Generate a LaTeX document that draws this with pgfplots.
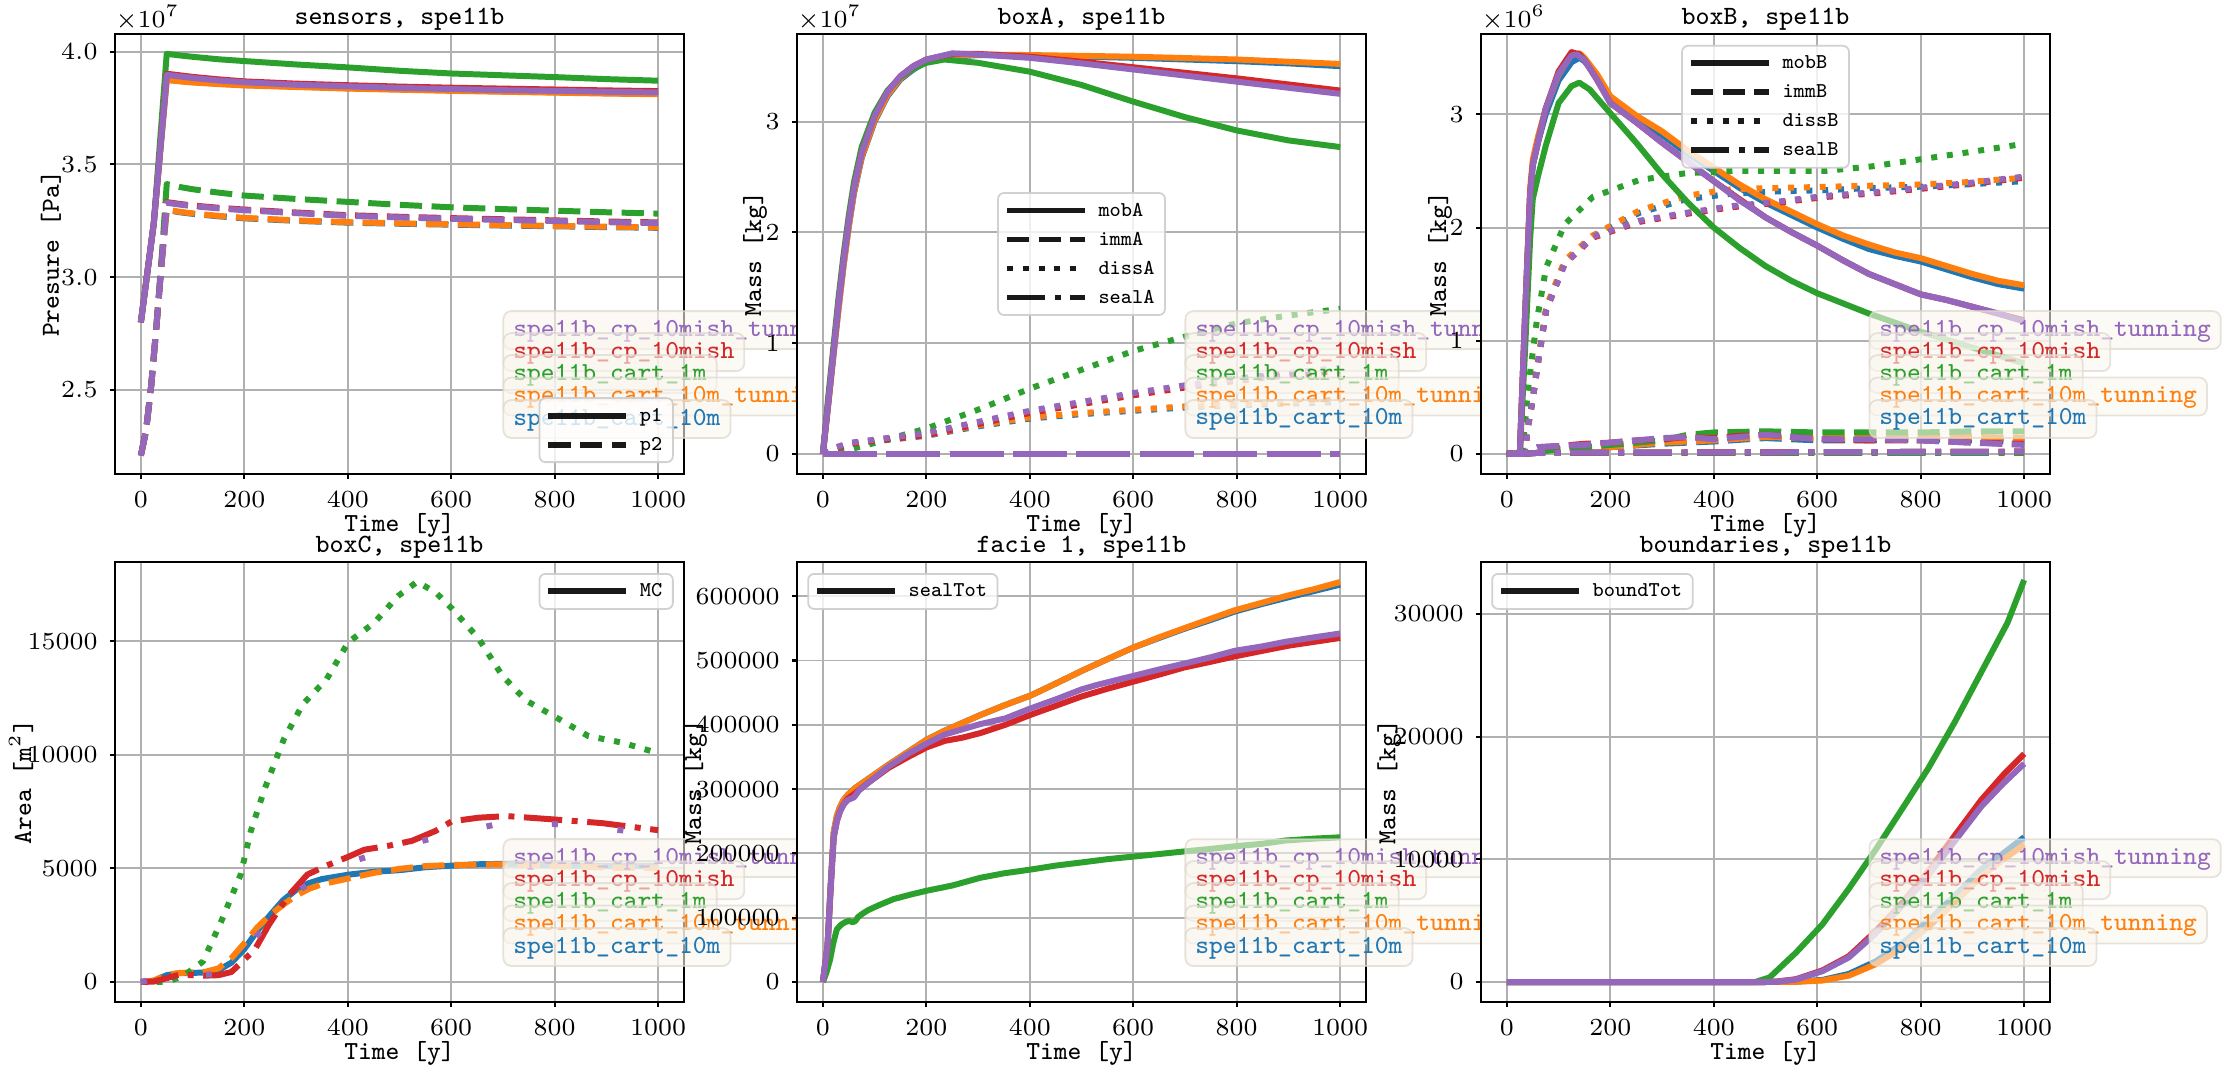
\documentclass[border=0pt]{standalone}
\usepackage{pgfplots}
\pgfplotsset{compat=1.18}
\definecolor{cblue}{HTML}{1F77B4}
\definecolor{corange}{HTML}{FF7F0E}
\definecolor{cgreen}{HTML}{2CA02C}
\definecolor{cred}{HTML}{D62728}
\definecolor{cpurple}{HTML}{9467BD}
\definecolor{gridgray}{HTML}{B0B0B0}
\definecolor{leggray}{HTML}{CCCCCC}
\definecolor{boxfill}{HTML}{FAF6EE}
\definecolor{boxedge}{HTML}{DDD8CE}
\tikzset{
  mdash/.style={dash pattern=on 6.3pt off 2.72pt},
  mdot/.style={dash pattern=on 1.7pt off 2.8pt},
  mdashdot/.style={dash pattern=on 10.9pt off 2.72pt on 1.7pt off 2.72pt},
  mloose/.style={dash pattern=on 1.7pt off 17pt},
  runbox/.style={anchor=west, inner xsep=1mm, inner ysep=0.75mm, text height=1.75mm, text depth=0.55mm,
    font=\fontsize{7.4}{9}\ttfamily, fill=boxfill, fill opacity=0.6, draw=boxedge, draw opacity=0.7,
    text opacity=1, rounded corners=0.8mm, line width=0.5pt},
}
\newcommand{\runlabels}{%
 \node[runbox,text=cpurple] at (rel axis cs:0.681,0.327) {spe11b\_cp\_10mish\_tunning};
 \node[runbox,text=cred] at (rel axis cs:0.681,0.277) {spe11b\_cp\_10mish};
 \node[runbox,text=cgreen] at (rel axis cs:0.681,0.227) {spe11b\_cart\_1m};
 \node[runbox,text=corange] at (rel axis cs:0.681,0.176) {spe11b\_cart\_10m\_tunning};
 \node[runbox,text=cblue] at (rel axis cs:0.681,0.125) {spe11b\_cart\_10m};
}
\pgfplotsset{
  base/.style={
    scale only axis, width=56.9mm, height=44mm,
    xmin=-50, xmax=1050, xtick={0,200,400,600,800,1000},
    grid=major, grid style={color=gridgray, line width=0.55pt},
    axis line style={black, line width=0.7pt},
    tick align=outside, xtick pos=lower, ytick pos=left,
    major tick length=0.5mm, tick style={black, line width=0.6pt},
    tick label style={font=\fontsize{7.05}{8.5}\selectfont},
    /pgf/number format/.cd, fixed, 1000 sep={}, /pgfplots/.cd,
    scaled ticks=false,
    label style={font=\fontsize{7.4}{9}\ttfamily},
    every axis title shift=0pt,
    title style={at={(axis description cs:0.5,1.034)}, anchor=center, inner sep=0pt, font=\fontsize{7.5}{9}\ttfamily},
    xlabel={Time [y]},
    xlabel style={at={(axis description cs:0.5,-0.117)}, anchor=center, inner sep=0pt},
    axis background/.style={fill=white},
    clip=false,
    every axis plot/.append style={line width=1.7pt, line join=round},
    legend image code/.code={\draw[line width=1.7pt,##1] (0mm,0mm) -- (7.8mm,0mm);},
    legend style={font=\fontsize{6}{7}\ttfamily, draw=leggray, line width=0.5pt, rounded corners=0.6mm,
      fill=white, fill opacity=0.8, draw opacity=0.9, text opacity=1, inner xsep=0.6mm, inner ysep=0.3mm,
      cells={anchor=west}, nodes={inner sep=0.45mm, text height=1.55mm, text depth=0.45mm},
      /tikz/every odd column/.style={column sep=0.6mm}},
  },
  ylab/.style={ylabel style={at={(axis description cs:#1,0.5)}, anchor=center, inner sep=0pt}},
}
\begin{document}
\begin{tikzpicture}
\useasboundingbox (0,0) rectangle (223.1mm,107.6mm);
% ---------------- sensors
\begin{axis}[base, at={(11.5mm,60.2mm)}, anchor=south west,
  title={sensors, spe11b}, ylabel={Presure [Pa]}, ylab=-0.1125,
  ymin=2.128e7, ymax=4.078e7, ytick={2.5e7,3.0e7,3.5e7,4.0e7}, yticklabels={$2.5$,$3.0$,$3.5$,$4.0$},
  legend style={at={(rel axis cs:0.982,0.025)}, anchor=south east}]
\addplot[cblue,forget plot] coordinates {(0,2.80e7)(25,3.24e7)(50,3.876e7)(75,3.870e7)(100,3.865e7)(150,3.858e7)(200,3.852e7)(300,3.845e7)(400,3.838e7)(500,3.833e7)(600,3.828e7)(700,3.824e7)(800,3.820e7)(900,3.816e7)(1000,3.813e7)};
\addplot[cblue,mdash,forget plot] coordinates {(0,2.21e7)(10,2.32e7)(20,2.52e7)(30,2.78e7)(40,3.06e7)(50,3.298e7)(75,3.288e7)(100,3.281e7)(150,3.270e7)(200,3.261e7)(300,3.250e7)(400,3.242e7)(500,3.237e7)(600,3.233e7)(700,3.229e7)(800,3.226e7)(900,3.222e7)(1000,3.219e7)};
\addplot[corange,forget plot] coordinates {(0,2.80e7)(25,3.24e7)(50,3.874e7)(75,3.868e7)(100,3.863e7)(150,3.856e7)(200,3.850e7)(300,3.843e7)(400,3.836e7)(500,3.831e7)(600,3.826e7)(700,3.822e7)(800,3.818e7)(900,3.814e7)(1000,3.811e7)};
\addplot[corange,mdash,forget plot] coordinates {(0,2.21e7)(10,2.32e7)(20,2.52e7)(30,2.78e7)(40,3.06e7)(50,3.300e7)(75,3.290e7)(100,3.283e7)(150,3.272e7)(200,3.263e7)(300,3.252e7)(400,3.244e7)(500,3.239e7)(600,3.235e7)(700,3.231e7)(800,3.228e7)(900,3.224e7)(1000,3.221e7)};
\addplot[cgreen,forget plot] coordinates {(0,2.80e7)(25,3.24e7)(50,3.990e7)(75,3.983e7)(100,3.977e7)(150,3.966e7)(200,3.958e7)(300,3.943e7)(400,3.930e7)(500,3.915e7)(600,3.903e7)(700,3.895e7)(800,3.887e7)(900,3.878e7)(1000,3.871e7)};
\addplot[cgreen,mdash,forget plot] coordinates {(0,2.21e7)(10,2.32e7)(20,2.52e7)(30,2.78e7)(40,3.08e7)(50,3.413e7)(75,3.400e7)(100,3.390e7)(150,3.375e7)(200,3.362e7)(300,3.347e7)(400,3.334e7)(500,3.321e7)(600,3.310e7)(700,3.302e7)(800,3.295e7)(900,3.288e7)(1000,3.282e7)};
\addplot[cred,forget plot] coordinates {(0,2.80e7)(25,3.24e7)(50,3.902e7)(75,3.895e7)(100,3.888e7)(150,3.877e7)(200,3.868e7)(300,3.858e7)(400,3.851e7)(500,3.845e7)(600,3.840e7)(700,3.836e7)(800,3.832e7)(900,3.828e7)(1000,3.825e7)};
\addplot[cred,mdash,forget plot] coordinates {(0,2.21e7)(10,2.32e7)(20,2.52e7)(30,2.78e7)(40,3.06e7)(50,3.333e7)(75,3.325e7)(100,3.318e7)(150,3.308e7)(200,3.300e7)(300,3.287e7)(400,3.275e7)(500,3.268e7)(600,3.262e7)(700,3.257e7)(800,3.252e7)(900,3.247e7)(1000,3.243e7)};
\addplot[cpurple,forget plot] coordinates {(0,2.80e7)(25,3.24e7)(50,3.897e7)(75,3.890e7)(100,3.883e7)(150,3.872e7)(200,3.864e7)(300,3.853e7)(400,3.846e7)(500,3.839e7)(600,3.834e7)(700,3.829e7)(800,3.826e7)(900,3.822e7)(1000,3.819e7)};
\addplot[cpurple,mdash,forget plot] coordinates {(0,2.21e7)(10,2.32e7)(20,2.52e7)(30,2.78e7)(40,3.06e7)(50,3.330e7)(75,3.322e7)(100,3.315e7)(150,3.305e7)(200,3.297e7)(300,3.284e7)(400,3.272e7)(500,3.265e7)(600,3.259e7)(700,3.254e7)(800,3.249e7)(900,3.244e7)(1000,3.240e7)};
\runlabels
\node[anchor=south west, inner sep=0pt, yshift=0.3mm, font=\fontsize{7.05}{8.5}\selectfont] at (rel axis cs:0,1) {$\times10^{7}$};
\addlegendimage{black}\addlegendentry{p1}
\addlegendimage{black,mdash}\addlegendentry{p2}
\end{axis}
% ---------------- boxA
\begin{axis}[base, at={(79.7mm,60.2mm)}, anchor=south west,
  title={boxA, spe11b}, ylabel={Mass [kg]}, ylab=-0.0737,
  ymin=-0.18e7, ymax=3.79e7, ytick={0,1e7,2e7,3e7}, yticklabels={$0$,$1$,$2$,$3$},
  legend style={at={(rel axis cs:0.5,0.5)}, anchor=center}]
\addplot[cblue,forget plot] coordinates {(0,0)(10,0.43e7)(20,0.87e7)(30,1.30e7)(40,1.70e7)(50,2.05e7)(60,2.35e7)(75,2.67e7)(100,3.00e7)(125,3.23e7)(150,3.38e7)(175,3.47e7)(200,3.54e7)(250,3.585e7)(300,3.60e7)(400,3.595e7)(500,3.585e7)(600,3.575e7)(700,3.56e7)(800,3.545e7)(900,3.525e7)(1000,3.50e7)};
\addplot[cblue,mdash,forget plot] coordinates {(0,0)(1000,0)};
\addplot[cblue,mdot,forget plot] coordinates {(0,0)(25,0.05e7)(50,0.085e7)(100,0.115e7)(200,0.165e7)(300,0.25e7)(400,0.32e7)(500,0.36e7)(600,0.39e7)(700,0.42e7)(800,0.44e7)(900,0.455e7)(1000,0.47e7)};
\addplot[cblue,mdashdot,forget plot] coordinates {(0,0)(1000,0)};
\addplot[corange,forget plot] coordinates {(0,0)(10,0.43e7)(20,0.87e7)(30,1.30e7)(40,1.70e7)(50,2.05e7)(60,2.36e7)(75,2.68e7)(100,3.01e7)(125,3.24e7)(150,3.39e7)(175,3.48e7)(200,3.55e7)(250,3.59e7)(300,3.605e7)(400,3.60e7)(500,3.593e7)(600,3.585e7)(700,3.573e7)(800,3.56e7)(900,3.54e7)(1000,3.52e7)};
\addplot[corange,mdash,forget plot] coordinates {(0,0)(1000,0)};
\addplot[corange,mdot,forget plot] coordinates {(0,0)(25,0.05e7)(50,0.09e7)(100,0.12e7)(200,0.17e7)(300,0.26e7)(400,0.33e7)(500,0.37e7)(600,0.40e7)(700,0.43e7)(800,0.45e7)(900,0.47e7)(1000,0.49e7)};
\addplot[corange,mdashdot,forget plot] coordinates {(0,0)(1000,0)};
\addplot[cgreen,forget plot] coordinates {(0,0)(10,0.5e7)(20,0.95e7)(30,1.40e7)(40,1.80e7)(50,2.15e7)(60,2.45e7)(75,2.77e7)(100,3.08e7)(125,3.28e7)(150,3.40e7)(175,3.48e7)(200,3.53e7)(235,3.56e7)(300,3.53e7)(400,3.45e7)(500,3.33e7)(600,3.18e7)(700,3.04e7)(800,2.92e7)(900,2.83e7)(1000,2.77e7)};
\addplot[cgreen,mdash,forget plot] coordinates {(0,0)(1000,0)};
\addplot[cgreen,mdot,forget plot] coordinates {(0,0)(50,0.04e7)(100,0.10e7)(200,0.23e7)(300,0.40e7)(400,0.59e7)(500,0.76e7)(600,0.93e7)(700,1.06e7)(800,1.18e7)(900,1.25e7)(1000,1.31e7)};
\addplot[cgreen,mdashdot,forget plot] coordinates {(0,0)(1000,0)};
\addplot[cred,forget plot] coordinates {(0,0)(10,0.45e7)(20,0.9e7)(30,1.35e7)(40,1.75e7)(50,2.1e7)(60,2.4e7)(75,2.72e7)(100,3.05e7)(125,3.27e7)(150,3.41e7)(175,3.50e7)(200,3.56e7)(250,3.61e7)(300,3.61e7)(400,3.585e7)(500,3.54e7)(600,3.49e7)(700,3.44e7)(800,3.39e7)(900,3.335e7)(1000,3.28e7)};
\addplot[cred,mdash,forget plot] coordinates {(0,0)(1000,0)};
\addplot[cred,mdot,forget plot] coordinates {(0,0)(25,0.05e7)(50,0.09e7)(100,0.12e7)(200,0.17e7)(300,0.27e7)(400,0.37e7)(500,0.45e7)(600,0.53e7)(700,0.60e7)(800,0.66e7)(900,0.71e7)(1000,0.75e7)};
\addplot[cred,mdashdot,forget plot] coordinates {(0,0)(1000,0)};
\addplot[cpurple,forget plot] coordinates {(0,0)(10,0.45e7)(20,0.9e7)(30,1.35e7)(40,1.75e7)(50,2.1e7)(60,2.4e7)(75,2.72e7)(100,3.05e7)(125,3.27e7)(150,3.41e7)(175,3.50e7)(200,3.56e7)(250,3.615e7)(300,3.605e7)(400,3.575e7)(500,3.525e7)(600,3.47e7)(700,3.415e7)(800,3.36e7)(900,3.305e7)(1000,3.25e7)};
\addplot[cpurple,mdash,forget plot] coordinates {(0,0)(1000,0)};
\addplot[cpurple,mdot,forget plot] coordinates {(0,0)(25,0.06e7)(50,0.10e7)(100,0.13e7)(200,0.19e7)(300,0.29e7)(400,0.39e7)(500,0.47e7)(600,0.55e7)(700,0.62e7)(800,0.68e7)(900,0.73e7)(1000,0.78e7)};
\addplot[cpurple,mdashdot,forget plot] coordinates {(0,0)(1000,0)};
\runlabels
\node[anchor=south west, inner sep=0pt, yshift=0.3mm, font=\fontsize{7.05}{8.5}\selectfont] at (rel axis cs:0,1) {$\times10^{7}$};
\addlegendimage{black}\addlegendentry{mobA}
\addlegendimage{black,mdash}\addlegendentry{immA}
\addlegendimage{black,mdot}\addlegendentry{dissA}
\addlegendimage{black,mdashdot}\addlegendentry{sealA}
\end{axis}
% ---------------- boxB
\begin{axis}[base, at={(148.1mm,60.2mm)}, anchor=south west,
  title={boxB, spe11b}, ylabel={Mass [kg]}, ylab=-0.072,
  ymin=-0.177e6, ymax=3.71e6, ytick={0,1e6,2e6,3e6}, yticklabels={$0$,$1$,$2$,$3$},
  legend style={at={(rel axis cs:0.5,0.975)}, anchor=north}]
\addplot[cblue,forget plot] coordinates {(0,0)(25,0)(35,1.2e6)(45,2.3e6)(50,2.55e6)(60,2.75e6)(75,3.0e6)(100,3.3e6)(125,3.46e6)(140,3.50e6)(150,3.47e6)(175,3.33e6)(200,3.12e6)(250,2.96e6)(300,2.82e6)(350,2.65e6)(400,2.50e6)(450,2.35e6)(500,2.22e6)(550,2.11e6)(600,2.00e6)(650,1.90e6)(700,1.81e6)(750,1.75e6)(800,1.70e6)(850,1.63e6)(900,1.56e6)(950,1.50e6)(1000,1.46e6)};
\addplot[cblue,mdash,forget plot] coordinates {(0,0)(30,0)(60,0.04e6)(100,0.05e6)(200,0.06e6)(300,0.09e6)(400,0.11e6)(500,0.14e6)(600,0.12e6)(700,0.12e6)(800,0.13e6)(900,0.12e6)(1000,0.11e6)};
\addplot[cblue,mdot,forget plot] coordinates {(0,0)(35,0)(40,0.22e6)(50,0.48e6)(58,0.74e6)(76,1.27e6)(112,1.69e6)(166,1.92e6)(256,2.13e6)(346,2.25e6)(436,2.30e6)(526,2.32e6)(615,2.33e6)(705,2.35e6)(795,2.36e6)(885,2.38e6)(1000,2.41e6)};
\addplot[cblue,mdashdot,forget plot] coordinates {(0,0)(30,0)(60,0.01e6)(1000,0.02e6)};
\addplot[corange,forget plot] coordinates {(0,0)(25,0)(35,1.2e6)(45,2.35e6)(50,2.6e6)(60,2.8e6)(75,3.05e6)(100,3.35e6)(125,3.53e6)(140,3.54e6)(150,3.50e6)(175,3.35e6)(200,3.16e6)(250,2.99e6)(300,2.85e6)(350,2.68e6)(400,2.53e6)(450,2.38e6)(500,2.25e6)(550,2.14e6)(600,2.03e6)(650,1.93e6)(700,1.85e6)(750,1.78e6)(800,1.73e6)(850,1.66e6)(900,1.59e6)(950,1.53e6)(1000,1.49e6)};
\addplot[corange,mdash,forget plot] coordinates {(0,0)(30,0)(60,0.04e6)(100,0.05e6)(200,0.06e6)(300,0.10e6)(400,0.12e6)(500,0.15e6)(600,0.14e6)(700,0.14e6)(800,0.15e6)(900,0.15e6)(1000,0.14e6)};
\addplot[corange,mdot,forget plot] coordinates {(0,0)(35,0)(40,0.23e6)(50,0.5e6)(58,0.76e6)(76,1.30e6)(112,1.71e6)(166,1.93e6)(256,2.15e6)(346,2.28e6)(436,2.34e6)(526,2.35e6)(615,2.36e6)(705,2.37e6)(795,2.38e6)(885,2.40e6)(1000,2.44e6)};
\addplot[corange,mdashdot,forget plot] coordinates {(0,0)(30,0)(60,0.01e6)(1000,0.02e6)};
\addplot[cgreen,forget plot] coordinates {(0,0)(25,0)(35,0.9e6)(45,1.9e6)(50,2.25e6)(60,2.45e6)(75,2.72e6)(100,3.10e6)(125,3.25e6)(140,3.28e6)(160,3.22e6)(200,3.01e6)(250,2.75e6)(300,2.47e6)(350,2.22e6)(400,2.0e6)(450,1.82e6)(500,1.66e6)(550,1.53e6)(600,1.42e6)(650,1.33e6)(700,1.24e6)(750,1.16e6)(800,1.08e6)(850,1.01e6)(900,0.94e6)(950,0.87e6)(1000,0.80e6)};
\addplot[cgreen,mdash,forget plot] coordinates {(0,0)(30,0)(60,0.02e6)(100,0.04e6)(150,0.06e6)(200,0.08e6)(250,0.10e6)(300,0.12e6)(350,0.17e6)(400,0.19e6)(500,0.20e6)(600,0.19e6)(700,0.19e6)(800,0.19e6)(900,0.20e6)(1000,0.20e6)};
\addplot[cgreen,mdot,forget plot] coordinates {(0,0)(30,0)(40,0.54e6)(50,0.9e6)(58,1.18e6)(76,1.65e6)(112,2.03e6)(166,2.27e6)(256,2.42e6)(346,2.48e6)(436,2.50e6)(526,2.50e6)(615,2.50e6)(705,2.54e6)(795,2.60e6)(885,2.66e6)(1000,2.74e6)};
\addplot[cgreen,mdashdot,forget plot] coordinates {(0,0)(30,0)(60,0.01e6)(1000,0.01e6)};
\addplot[cred,forget plot] coordinates {(0,0)(25,0)(35,1.2e6)(45,2.3e6)(50,2.55e6)(60,2.75e6)(75,3.05e6)(100,3.38e6)(125,3.55e6)(140,3.53e6)(150,3.48e6)(175,3.30e6)(200,3.10e6)(250,2.93e6)(300,2.75e6)(350,2.58e6)(400,2.41e6)(450,2.25e6)(500,2.09e6)(550,1.96e6)(600,1.84e6)(650,1.71e6)(700,1.59e6)(750,1.50e6)(800,1.41e6)(850,1.36e6)(900,1.30e6)(950,1.24e6)(1000,1.18e6)};
\addplot[cred,mdash,forget plot] coordinates {(0,0)(30,0)(60,0.06e6)(100,0.07e6)(150,0.09e6)(200,0.10e6)(250,0.12e6)(300,0.13e6)(350,0.15e6)(400,0.14e6)(450,0.16e6)(500,0.17e6)(550,0.15e6)(600,0.13e6)(700,0.12e6)(800,0.12e6)(900,0.10e6)(1000,0.09e6)};
\addplot[cred,mdot,forget plot] coordinates {(0,0)(35,0)(40,0.22e6)(50,0.48e6)(58,0.74e6)(76,1.27e6)(112,1.68e6)(166,1.91e6)(256,2.05e6)(346,2.12e6)(436,2.18e6)(526,2.22e6)(615,2.27e6)(705,2.30e6)(795,2.34e6)(885,2.38e6)(1000,2.44e6)};
\addplot[cred,mdashdot,forget plot] coordinates {(0,0)(30,0)(60,0.01e6)(1000,0.02e6)};
\addplot[cpurple,forget plot] coordinates {(0,0)(25,0)(35,1.2e6)(45,2.3e6)(50,2.55e6)(60,2.75e6)(75,3.05e6)(100,3.36e6)(125,3.52e6)(135,3.53e6)(150,3.48e6)(175,3.30e6)(200,3.10e6)(250,2.93e6)(300,2.75e6)(350,2.58e6)(400,2.41e6)(450,2.24e6)(500,2.09e6)(550,1.96e6)(600,1.84e6)(650,1.71e6)(700,1.59e6)(750,1.50e6)(800,1.41e6)(850,1.36e6)(900,1.30e6)(950,1.24e6)(1000,1.17e6)};
\addplot[cpurple,mdash,forget plot] coordinates {(0,0)(30,0)(60,0.06e6)(100,0.07e6)(150,0.08e6)(200,0.10e6)(250,0.12e6)(300,0.14e6)(350,0.15e6)(400,0.13e6)(450,0.15e6)(500,0.17e6)(550,0.15e6)(600,0.13e6)(700,0.13e6)(800,0.12e6)(900,0.10e6)(1000,0.08e6)};
\addplot[cpurple,mdot,forget plot] coordinates {(0,0)(35,0)(40,0.22e6)(50,0.48e6)(58,0.74e6)(76,1.27e6)(112,1.68e6)(166,1.92e6)(256,2.06e6)(346,2.13e6)(436,2.19e6)(526,2.23e6)(615,2.28e6)(705,2.31e6)(795,2.35e6)(885,2.39e6)(1000,2.45e6)};
\addplot[cpurple,mdashdot,forget plot] coordinates {(0,0)(30,0)(60,0.01e6)(1000,0.02e6)};
\runlabels
\node[anchor=south west, inner sep=0pt, yshift=0.3mm, font=\fontsize{7.05}{8.5}\selectfont] at (rel axis cs:0,1) {$\times10^{6}$};
\addlegendimage{black}\addlegendentry{mobB}
\addlegendimage{black,mdash}\addlegendentry{immB}
\addlegendimage{black,mdot}\addlegendentry{dissB}
\addlegendimage{black,mdashdot}\addlegendentry{sealB}
\end{axis}
% ---------------- boxC
\begin{axis}[base, at={(11.5mm,7.4mm)}, anchor=south west,
  title={boxC, spe11b}, ylabel={Area [m$^2$]}, ylab=-0.165,
  ymin=-880, ymax=18480, ytick={0,5000,10000,15000},
  legend style={at={(rel axis cs:0.982,0.975)}, anchor=north east}]
\addplot[cblue,forget plot] coordinates {(0,0)(25,60)(50,300)(75,390)(100,400)(125,420)(150,520)(175,850)(200,1450)(225,2250)(250,2950)(275,3600)(300,4050)(325,4350)(350,4530)(400,4720)(450,4850)(500,4920)(550,5050)(600,5120)(650,5180)(700,5200)(800,5130)(900,5100)(1000,5100)};
\addplot[corange,mdash,forget plot] coordinates {(0,0)(25,60)(50,320)(75,400)(100,420)(125,450)(150,600)(175,1050)(200,1700)(225,2400)(250,2950)(275,3400)(300,3800)(325,4100)(350,4300)(400,4550)(450,4800)(500,4980)(550,5100)(600,5150)(700,5180)(800,5100)(900,5030)(1000,5000)};
\addplot[cgreen,mdot,forget plot] coordinates {(0,0)(25,0)(50,0)(83,280)(120,900)(156,2700)(193,4730)(212,6600)(239,8480)(276,10660)(313,12220)(359,13320)(401,14950)(451,15800)(497,16980)(534,17610)(570,17140)(601,16440)(653,15110)(699,13470)(745,12380)(800,11680)(865,10820)(929,10540)(1000,10070)};
\addplot[cred,mdashdot,forget plot] coordinates {(0,0)(25,20)(55,200)(75,330)(100,300)(125,280)(150,300)(175,440)(193,830)(221,1450)(248,2540)(285,3790)(322,4730)(359,5120)(400,5500)(432,5820)(480,6000)(524,6210)(570,6650)(601,7070)(653,7230)(708,7300)(800,7150)(892,6990)(1000,6680)};
\addplot[cpurple,mloose,forget plot] coordinates {(0,0)(50,250)(100,300)(150,350)(200,1400)(250,2700)(300,3950)(350,4700)(393,5200)(450,5600)(504,5980)(560,6300)(618,6600)(680,6900)(736,7000)(800,6950)(853,6840)(920,6700)(969,6570)(1000,6500)};
\runlabels
\addlegendimage{black}\addlegendentry{MC}
\end{axis}
% ---------------- facie 1
\begin{axis}[base, at={(79.7mm,7.4mm)}, anchor=south west,
  title={facie 1, spe11b}, ylabel={Mass [kg]}, ylab=-0.179,
  ymin=-31100, ymax=653100, ytick={0,100000,200000,300000,400000,500000,600000},
  legend style={at={(rel axis cs:0.018,0.975)}, anchor=north west}]
\addplot[cblue,forget plot] coordinates {(0,0)(9,57000)(15,150000)(21,233000)(27,258000)(33,272000)(40,283000)(48,291000)(63,302000)(88,316000)(127,338000)(165,358000)(201,377000)(236,391000)(270,403000)(304,415000)(350,430000)(403,446000)(450,464000)(501,484000)(550,502000)(600,520000)(650,535000)(698,549000)(750,563000)(796,576000)(850,588000)(894,597000)(950,608000)(1000,618000)};
\addplot[corange,forget plot] coordinates {(0,0)(9,57000)(15,150000)(21,233000)(27,258000)(33,272000)(40,283000)(48,291000)(63,302000)(88,316000)(127,338000)(165,358000)(201,377000)(236,391000)(270,403000)(304,415000)(350,430000)(403,446000)(450,464000)(501,484000)(550,502000)(600,520000)(650,536000)(698,550000)(750,565000)(796,578000)(850,590000)(894,600000)(950,611000)(1000,622000)};
\addplot[cgreen,forget plot] coordinates {(0,0)(7,15000)(14,35000)(20,60000)(27,82000)(35,89000)(43,93000)(50,95000)(58,93000)(63,95000)(68,101000)(78,107000)(88,112000)(110,120000)(137,129000)(170,136000)(201,142000)(250,150000)(304,162000)(350,169000)(403,175000)(450,181000)(501,186000)(550,191000)(600,195000)(650,199000)(698,203000)(750,207000)(796,211000)(850,215000)(894,220000)(950,223000)(1000,225000)};
\addplot[cred,forget plot] coordinates {(0,0)(9,55000)(15,145000)(21,225000)(27,250000)(33,265000)(40,276000)(48,285000)(60,292000)(88,310000)(127,333000)(165,350000)(201,365000)(236,375000)(270,380000)(304,387000)(353,400000)(400,415000)(452,430000)(500,444000)(550,456000)(600,467000)(650,478000)(698,489000)(750,498000)(800,507000)(850,515000)(900,523000)(950,529000)(1000,535000)};
\addplot[cpurple,forget plot] coordinates {(0,0)(9,55000)(15,145000)(21,225000)(27,250000)(33,265000)(40,276000)(48,283000)(60,287000)(70,298000)(88,310000)(127,335000)(165,355000)(201,371000)(236,385000)(270,393000)(304,401000)(353,410000)(400,425000)(452,440000)(500,455000)(530,462000)(600,476000)(650,486000)(698,495000)(750,505000)(796,515000)(850,522000)(894,529000)(950,536000)(1000,542000)};
\runlabels
\addlegendimage{black}\addlegendentry{sealTot}
\end{axis}
% ---------------- boundaries
\begin{axis}[base, at={(148.1mm,7.4mm)}, anchor=south west,
  title={boundaries, spe11b}, ylabel={Mass [kg]}, ylab=-0.161,
  ymin=-1630, ymax=34240, ytick={0,10000,20000,30000},
  legend style={at={(rel axis cs:0.018,0.975)}, anchor=north west}]
\addplot[cblue,forget plot] coordinates {(0,0)(500,0)(560,30)(610,170)(661,660)(713,1680)(764,3120)(815,5000)(866,7030)(917,9200)(960,10500)(1000,11800)};
\addplot[corange,forget plot] coordinates {(0,0)(500,0)(560,20)(610,120)(661,520)(713,1450)(764,2800)(815,4500)(866,6500)(917,8600)(960,10000)(1000,11200)};
\addplot[cgreen,forget plot] coordinates {(0,0)(480,0)(508,376)(559,2400)(610,4700)(661,7600)(713,10790)(764,14100)(815,17440)(866,21200)(917,25250)(968,29300)(1000,32770)};
\addplot[cred,forget plot] coordinates {(0,0)(500,0)(520,30)(559,230)(610,950)(661,2100)(713,4140)(764,6450)(815,9050)(866,11950)(917,14840)(960,16900)(1000,18600)};
\addplot[cpurple,forget plot] coordinates {(0,0)(500,0)(520,25)(559,200)(610,880)(661,2000)(713,3950)(764,6200)(815,8700)(866,11500)(917,14300)(960,16200)(1000,17800)};
\runlabels
\addlegendimage{black}\addlegendentry{boundTot}
\end{axis}
\end{tikzpicture}
\end{document}
